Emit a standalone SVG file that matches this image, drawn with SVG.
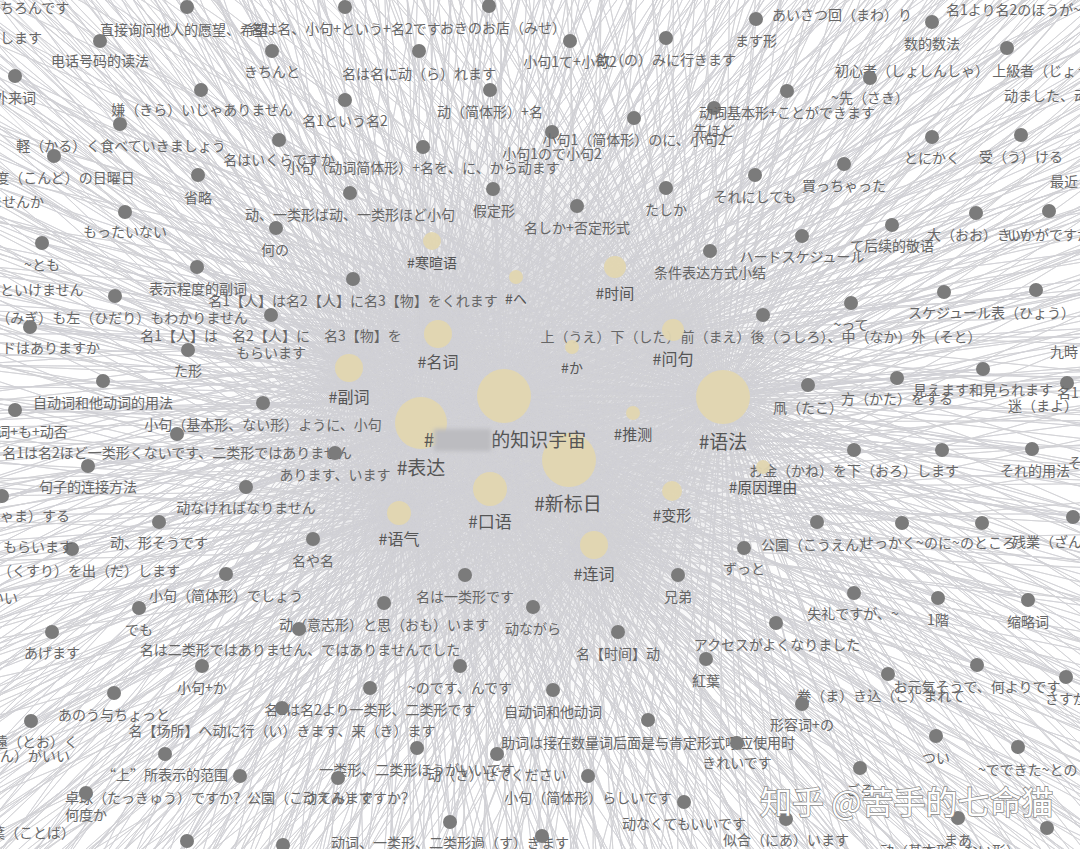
<svg xmlns="http://www.w3.org/2000/svg" xmlns:xlink="http://www.w3.org/1999/xlink" width="1080" height="849" viewBox="0 0 1080 849">
<style>
text{font-family:"Noto Sans CJK SC","Noto Sans CJK JP",sans-serif}
.n circle{fill:#7b7b7b}
.n text{font-size:14px;fill:#666;text-anchor:middle}
.n text.s{text-anchor:start}
.n text.e{text-anchor:end}
.h circle{fill:#e2d6b0;opacity:.95}
.h text{fill:#555;text-anchor:middle}
.c{fill:none;stroke:#d1d1d5;stroke-width:.8;stroke-linejoin:bevel}
</style>
<defs>
<radialGradient id="haze" cx="520" cy="420" r="330" gradientUnits="userSpaceOnUse">
<stop offset="0" stop-color="#d6d6da"/>
<stop offset="0.5" stop-color="#d9d9dd" stop-opacity="0.8"/>
<stop offset="1" stop-color="#ffffff" stop-opacity="0"/>
</radialGradient>
<filter id="blur" x="-20%" y="-40%" width="140%" height="180%"><feGaussianBlur stdDeviation="2"/></filter>
<path id="star" d="M0 0L-1000 -1000 0 0-935 -1000 0 0-862 -1000 0 0-800 -1000 0 0-728 -1000 0 0-661 -1000 0 0-597 -1000 0 0-530 -1000 0 0-468 -1000 0 0-401 -1000 0 0-335 -1000 0 0-270 -1000 0 0-203 -1000 0 0-140 -1000 0 0-71 -1000 0 0-8 -1000 0 0 57 -1000 0 0 122 -1000 0 0 190 -1000 0 0 255 -1000 0 0 318 -1000 0 0 386 -1000 0 0 450 -1000 0 0 517 -1000 0 0 583 -1000 0 0 648 -1000 0 0 716 -1000 0 0 780 -1000 0 0 845 -1000 0 0 912 -1000 0 0 975 -1000 0 0 1000 -960 0 0 1000 -893 0 0 1000 -829 0 0 1000 -760 0 0 1000 -697 0 0 1000 -631 0 0 1000 -566 0 0 1000 -499 0 0 1000 -437 0 0 1000 -370 0 0 1000 -305 0 0 1000 -238 0 0 1000 -175 0 0 1000 -108 0 0 1000 -42 0 0 1000 25 0 0 1000 91 0 0 1000 156 0 0 1000 224 0 0 1000 289 0 0 1000 353 0 0 1000 421 0 0 1000 486 0 0 1000 551 0 0 1000 618 0 0 1000 684 0 0 1000 749 0 0 1000 815 0 0 1000 882 0 0 1000 948 0 0 1000 1000 0 0 938 1000 0 0 871 1000 0 0 805 1000 0 0 740 1000 0 0 673 1000 0 0 609 1000 0 0 543 1000 0 0 478 1000 0 0 412 1000 0 0 346 1000 0 0 281 1000 0 0 214 1000 0 0 150 1000 0 0 83 1000 0 0 18 1000 0 0-47 1000 0 0-113 1000 0 0-180 1000 0 0-244 1000 0 0-311 1000 0 0-377 1000 0 0-442 1000 0 0-508 1000 0 0-574 1000 0 0-640 1000 0 0-706 1000 0 0-771 1000 0 0-837 1000 0 0-903 1000 0 0-968 1000 0 0-1000 965 0 0-1000 900 0 0-1000 834 0 0-1000 768 0 0-1000 703 0 0-1000 637 0 0-1000 572 0 0-1000 506 0 0-1000 441 0 0-1000 375 0 0-1000 309 0 0-1000 244 0 0-1000 178 0 0-1000 113 0 0-1000 47 0 0-1000 -19 0 0-1000 -84 0 0-1000 -150 0 0-1000 -216 0 0-1000 -281 0 0-1000 -347 0 0-1000 -412 0 0-1000 -478 0 0-1000 -544 0 0-1000 -609 0 0-1000 -675 0 0-1000 -740 0 0-1000 -806 0 0-1000 -871 0 0-1000 -937"/>
</defs>
<rect width="1080" height="849" fill="#ffffff"/>
<rect width="1080" height="849" fill="url(#haze)"/>
<g id="connectors" class="c">
<use xlink:href="#star" transform="translate(504 396)"/>
<use xlink:href="#star" transform="translate(723 397) rotate(1.4)"/>
<use xlink:href="#star" transform="translate(421 423) rotate(2.2)"/>
<use xlink:href="#star" transform="translate(569 460) rotate(0.8)"/>
<use xlink:href="#star" transform="translate(490 489) rotate(1.9)"/>
<use xlink:href="#star" transform="translate(438 334) rotate(2.7)"/>
<use xlink:href="#star" transform="translate(673 330) rotate(0.5)"/>
<use xlink:href="#star" transform="translate(349 368) rotate(3.1)"/>
<use xlink:href="#star" transform="translate(594 545) rotate(1.2)"/>
<use xlink:href="#star" transform="translate(399 513) rotate(2.5)"/>
<path d="M504 396L187 7 504 396 345 7 504 396 489 6 504 396 100 41 504 396 272 51 504 396 419 51 504 396 570 41 504 396 666 38 504 396 756 19 504 396 932 22 504 396 1007 48 504 396 15 76 504 396 201 90 504 396 345 100 504 396 490 90 504 396 120 124 504 396 279 140 504 396 423 147 504 396 552 132 504 396 634 118 504 396 714 108 504 396 787 91 504 396 870 78 504 396 932 137 504 396 1021 135 504 396 54 156 504 396 198 175 504 396 350 193 504 396 493 189 504 396 577 206 504 396 666 188 504 396 755 175 504 396 844 164 504 396 125 212 504 396 276 228 504 396 42 243 504 396 197 267 504 396 353 279 504 396 710 251 504 396 802 236 504 396 892 225 504 396 976 213 504 396 1049 211 504 396 115 296 504 396 30 327 504 396 271 315 504 396 188 350 504 396 103 381 504 396 263 403 504 396 15 410 504 396 177 434 504 396 335 453 504 396 88 466 504 396 246 487 504 396 2 496 504 396 159 522 504 396 72 549 504 396 313 539 504 396 226 574 504 396 465 575 504 396 678 575 504 396 744 548 504 396 817 522 504 396 902 523 504 396 982 523 504 396 1073 517 504 396 854 450 504 396 942 450 504 396 1032 449 504 396 763 315 504 396 851 303 504 396 944 292 504 396 1036 290 504 396 897 378 504 396 983 369 504 396 1067 383 504 396 808 385 504 396 854 593 504 396 938 598 504 396 1028 600 504 396 776 623 504 396 706 659 504 396 618 632 504 396 533 607 504 396 384 603 504 396 299 629 504 396 139 608 504 396 52 632 504 396 202 666 504 396 460 666 504 396 370 688 504 396 553 690 504 396 282 708 504 396 114 693 504 396 31 721 504 396 888 674 504 396 977 665 504 396 1066 677 504 396 802 704 504 396 648 720 504 396 737 743 504 396 417 748 504 396 497 754 504 396 165 754 504 396 936 736 504 396 1018 747 504 396 240 776 504 396 338 778 504 396 588 776 504 396 86 793 504 396 860 768 504 396 684 802 504 396 786 819 504 396 958 818 504 396 1047 828 504 396 450 822 504 396 187 841 504 396 283 845 504 396 542 836"/>
<path d="M723 397L187 7 723 397 345 7 723 397 489 6 723 397 100 41 723 397 272 51 723 397 419 51 723 397 570 41 723 397 666 38 723 397 756 19 723 397 932 22 723 397 1007 48 723 397 15 76 723 397 201 90 723 397 345 100 723 397 490 90 723 397 120 124 723 397 279 140 723 397 423 147 723 397 552 132 723 397 634 118 723 397 714 108 723 397 787 91 723 397 870 78 723 397 932 137 723 397 1021 135 723 397 54 156 723 397 198 175 723 397 350 193 723 397 493 189 723 397 577 206 723 397 666 188 723 397 755 175 723 397 844 164 723 397 125 212 723 397 276 228 723 397 42 243 723 397 197 267 723 397 353 279 723 397 710 251 723 397 802 236 723 397 892 225 723 397 976 213 723 397 1049 211 723 397 115 296 723 397 30 327 723 397 271 315 723 397 188 350 723 397 103 381 723 397 263 403 723 397 15 410 723 397 177 434 723 397 335 453 723 397 88 466 723 397 246 487 723 397 2 496 723 397 159 522 723 397 72 549 723 397 313 539 723 397 226 574 723 397 465 575 723 397 678 575 723 397 744 548 723 397 817 522 723 397 902 523 723 397 982 523 723 397 1073 517 723 397 854 450 723 397 942 450 723 397 1032 449 723 397 763 315 723 397 851 303 723 397 944 292 723 397 1036 290 723 397 897 378 723 397 983 369 723 397 1067 383 723 397 808 385 723 397 854 593 723 397 938 598 723 397 1028 600 723 397 776 623 723 397 706 659 723 397 618 632 723 397 533 607 723 397 384 603 723 397 299 629 723 397 139 608 723 397 52 632 723 397 202 666 723 397 460 666 723 397 370 688 723 397 553 690 723 397 282 708 723 397 114 693 723 397 31 721 723 397 888 674 723 397 977 665 723 397 1066 677 723 397 802 704 723 397 648 720 723 397 737 743 723 397 417 748 723 397 497 754 723 397 165 754 723 397 936 736 723 397 1018 747 723 397 240 776 723 397 338 778 723 397 588 776 723 397 86 793 723 397 860 768 723 397 684 802 723 397 786 819 723 397 958 818 723 397 1047 828 723 397 450 822 723 397 187 841 723 397 283 845 723 397 542 836"/>
<path d="M421 423L187 7 421 423 345 7 421 423 489 6 421 423 100 41 421 423 272 51 421 423 419 51 421 423 570 41 421 423 666 38 421 423 756 19 421 423 932 22 421 423 1007 48 421 423 15 76 421 423 201 90 421 423 345 100 421 423 490 90 421 423 120 124 421 423 279 140 421 423 423 147 421 423 552 132 421 423 634 118 421 423 714 108 421 423 787 91 421 423 870 78 421 423 932 137 421 423 1021 135 421 423 54 156 421 423 198 175 421 423 350 193 421 423 493 189 421 423 577 206 421 423 666 188 421 423 755 175 421 423 844 164 421 423 125 212 421 423 276 228 421 423 42 243 421 423 197 267 421 423 353 279 421 423 710 251 421 423 802 236 421 423 892 225 421 423 976 213 421 423 1049 211 421 423 115 296 421 423 30 327 421 423 271 315 421 423 188 350 421 423 103 381 421 423 263 403 421 423 15 410 421 423 177 434 421 423 335 453 421 423 88 466 421 423 246 487 421 423 2 496 421 423 159 522 421 423 72 549 421 423 313 539 421 423 226 574 421 423 465 575 421 423 678 575 421 423 744 548 421 423 817 522 421 423 902 523 421 423 982 523 421 423 1073 517 421 423 854 450 421 423 942 450 421 423 1032 449 421 423 763 315 421 423 851 303 421 423 944 292 421 423 1036 290 421 423 897 378 421 423 983 369 421 423 1067 383 421 423 808 385 421 423 854 593 421 423 938 598 421 423 1028 600 421 423 776 623 421 423 706 659 421 423 618 632 421 423 533 607 421 423 384 603 421 423 299 629 421 423 139 608 421 423 52 632 421 423 202 666 421 423 460 666 421 423 370 688 421 423 553 690 421 423 282 708 421 423 114 693 421 423 31 721 421 423 888 674 421 423 977 665 421 423 1066 677 421 423 802 704 421 423 648 720 421 423 737 743 421 423 417 748 421 423 497 754 421 423 165 754 421 423 936 736 421 423 1018 747 421 423 240 776 421 423 338 778 421 423 588 776 421 423 86 793 421 423 860 768 421 423 684 802 421 423 786 819 421 423 958 818 421 423 1047 828 421 423 450 822 421 423 187 841 421 423 283 845 421 423 542 836"/>
</g>
<g id="nodes">
<g id="n1" class="n"><circle cx="187" cy="7" r="7"/><text x="184" y="35">直接询问他人的愿望、希望</text></g>
<g id="n2" class="n"><circle cx="345" cy="7" r="7"/><text x="345" y="34">名は名、小句+という+名2です</text></g>
<g id="n3" class="n"><circle cx="489" cy="6" r="7"/><text class="s" x="440" y="33">おきのお店（みせ）</text></g>
<g id="n4" class="n"><circle cx="100" cy="41" r="7"/><text x="100" y="66">电话号码的读法</text></g>
<g id="n5" class="n"><circle cx="272" cy="51" r="7"/><text x="272" y="77">きちんと</text></g>
<g id="n6" class="n"><circle cx="419" cy="51" r="7"/><text x="419" y="79">名は名に动（ら）れます</text></g>
<g id="n7" class="n"><circle cx="570" cy="41" r="7"/><text x="570" y="67">小句1て+小句2</text></g>
<g id="n8" class="n"><circle cx="666" cy="38" r="7"/><text x="666" y="65">飲（の）みに行きます</text></g>
<g id="n9" class="n"><circle cx="756" cy="19" r="7"/><text x="756" y="46">ます形</text></g>
<g id="n10" class="n"><circle cx="932" cy="22" r="7"/><text x="932" y="49">数的数法</text></g>
<g id="n11" class="n"><circle cx="1007" cy="48" r="7"/><text class="s" x="835" y="76">初心者（しょしんしゃ） 上級者（じょうきゅうしゃ）</text></g>
<g id="n12" class="n"><circle cx="15" cy="76" r="7"/><text x="15" y="103">外来词</text></g>
<g id="n13" class="n"><circle cx="201" cy="90" r="7"/><text x="202" y="115">嫌（きら）いじゃありません</text></g>
<g id="n14" class="n"><circle cx="345" cy="100" r="7"/><text x="345" y="126">名1という名2</text></g>
<g id="n15" class="n"><circle cx="490" cy="90" r="7"/><text x="490" y="117">动（简体形）+名</text></g>
<g id="n16" class="n"><circle cx="120" cy="124" r="7"/><text x="121" y="151">軽（かる）く食べていきましょう</text></g>
<g id="n17" class="n"><circle cx="279" cy="140" r="7"/><text x="279" y="165">名はいくらですか</text></g>
<g id="n18" class="n"><circle cx="423" cy="147" r="7"/><text x="423" y="173">小句（动词简体形）+名を、に、から动ます</text></g>
<g id="n19" class="n"><circle cx="552" cy="132" r="7"/><text x="552" y="159">小句1ので小句2</text></g>
<g id="n20" class="n"><circle cx="634" cy="118" r="7"/><text x="634" y="145">小句1（简体形）のに、小句2</text></g>
<g id="n21" class="n"><circle cx="714" cy="108" r="7"/><text x="714" y="136">先ほど</text></g>
<g id="n22" class="n"><circle cx="787" cy="91" r="7"/><text x="787" y="118">动词基本形+ことができます</text></g>
<g id="n23" class="n"><circle cx="870" cy="78" r="7"/><text x="870" y="103">~先（さき）</text></g>
<g id="n24" class="n"><circle cx="932" cy="137" r="7"/><text x="932" y="163">とにかく</text></g>
<g id="n25" class="n"><circle cx="1021" cy="135" r="7"/><text x="1021" y="162">受（う）ける</text></g>
<g id="n26" class="n"><circle cx="54" cy="156" r="7"/><text x="58" y="183">今度（こんど）の日曜日</text></g>
<g id="n27" class="n"><circle cx="198" cy="175" r="7"/><text x="198" y="203">省略</text></g>
<g id="n28" class="n"><circle cx="350" cy="193" r="7"/><text x="350" y="220">动、一类形ば动、一类形ほど小句</text></g>
<g id="n29" class="n"><circle cx="493" cy="189" r="7"/><text x="494" y="216">假定形</text></g>
<g id="n30" class="n"><circle cx="577" cy="206" r="7"/><text x="577" y="233">名しか+否定形式</text></g>
<g id="n31" class="n"><circle cx="666" cy="188" r="7"/><text x="666" y="215">たしか</text></g>
<g id="n32" class="n"><circle cx="755" cy="175" r="7"/><text x="755" y="202">それにしても</text></g>
<g id="n33" class="n"><circle cx="844" cy="164" r="7"/><text x="844" y="191">買っちゃった</text></g>
<g id="n34" class="n"><circle cx="125" cy="212" r="7"/><text x="125" y="237">もったいない</text></g>
<g id="n35" class="n"><circle cx="276" cy="228" r="7"/><text x="275" y="255">何の</text></g>
<g id="n36" class="n"><circle cx="42" cy="243" r="7"/><text x="42" y="270">~とも</text></g>
<g id="n37" class="n"><circle cx="197" cy="267" r="7"/><text x="198" y="294">表示程度的副词</text></g>
<g id="n38" class="n"><circle cx="353" cy="279" r="7"/><text x="353" y="306">名1【人】は名2【人】に名3【物】をくれます</text></g>
<g id="n39" class="n"><circle cx="710" cy="251" r="7"/><text x="710" y="278">条件表达方式小结</text></g>
<g id="n40" class="n"><circle cx="802" cy="236" r="7"/><text x="802" y="262">ハードスケジュール</text></g>
<g id="n41" class="n"><circle cx="892" cy="225" r="7"/><text x="892" y="251">て后续的敬语</text></g>
<g id="n42" class="n"><circle cx="976" cy="213" r="7"/><text x="976" y="240">大（おお）きい</text></g>
<g id="n43" class="n"><circle cx="1049" cy="211" r="7"/><text x="1049" y="240">いかがですか</text></g>
<g id="n44" class="n"><circle cx="115" cy="296" r="7"/><text x="115" y="323">右（みぎ）も左（ひだり）もわかりません</text></g>
<g id="n45" class="n"><circle cx="30" cy="327" r="7"/><text class="s" x="2" y="353">ドはありますか</text></g>
<g id="n46" class="n"><circle cx="271" cy="315" r="7"/><text x="271" y="341">名1【人】は　名2【人】に　名3【物】を</text><text x="271" y="358">もらいます</text></g>
<g id="n47" class="n"><circle cx="188" cy="350" r="7"/><text x="188" y="376">た形</text></g>
<g id="n48" class="n"><circle cx="103" cy="381" r="7"/><text x="103" y="408">自动词和他动词的用法</text></g>
<g id="n49" class="n"><circle cx="263" cy="403" r="7"/><text x="263" y="430">小句（基本形、ない形）ように、小句</text></g>
<g id="n50" class="n"><circle cx="15" cy="410" r="7"/><text x="18" y="437">疑问词+も+动否</text></g>
<g id="n51" class="n"><circle cx="177" cy="434" r="7"/><text x="177" y="458">名1は名2ほど一类形くないです、二类形ではありません</text></g>
<g id="n52" class="n"><circle cx="335" cy="453" r="7"/><text x="335" y="480">あります、います</text></g>
<g id="n53" class="n"><circle cx="88" cy="466" r="7"/><text x="88" y="492">句子的连接方法</text></g>
<g id="n54" class="n"><circle cx="246" cy="487" r="7"/><text x="246" y="513">动なければなりません</text></g>
<g id="n55" class="n"><circle cx="2" cy="496" r="7"/><text class="e" x="70" y="521">邪魔（じゃま）する</text></g>
<g id="n56" class="n"><circle cx="159" cy="522" r="7"/><text x="159" y="548">动、形そうです</text></g>
<g id="n57" class="n"><circle cx="72" cy="549" r="7"/><text x="82" y="576">薬（くすり）を出（だ）します</text></g>
<g id="n58" class="n"><circle cx="313" cy="539" r="7"/><text x="313" y="566">名や名</text></g>
<g id="n59" class="n"><circle cx="226" cy="574" r="7"/><text x="226" y="601">小句（简体形）でしょう</text></g>
<g id="n60" class="n"><circle cx="465" cy="575" r="7"/><text x="465" y="602">名は一类形です</text></g>
<g id="n61" class="n"><circle cx="678" cy="575" r="7"/><text x="678" y="602">兄弟</text></g>
<g id="n62" class="n"><circle cx="744" cy="548" r="7"/><text x="744" y="574">ずっと</text></g>
<g id="n63" class="n"><circle cx="817" cy="522" r="7"/><text x="817" y="550">公園（こうえん）</text></g>
<g id="n64" class="n"><circle cx="902" cy="523" r="7"/><text x="906" y="548">せっかく~のに</text></g>
<g id="n65" class="n"><circle cx="982" cy="523" r="7"/><text x="984" y="548">~のところ</text></g>
<g id="n66" class="n"><circle cx="1073" cy="517" r="7"/><text class="s" x="1012" y="547">残業（ざんぎょう）</text></g>
<g id="n67" class="n"><circle cx="854" cy="450" r="7"/><text x="854" y="476">お金（かね）を下（おろ）します</text></g>
<g id="n68" class="n"><circle cx="942" cy="450" r="7"/></g>
<g id="n69" class="n"><circle cx="1032" cy="449" r="7"/><text x="1035" y="476">それ的用法</text></g>
<g id="n70" class="n"><circle cx="763" cy="315" r="7"/><text x="761" y="342">上（うえ）下（した）前（まえ）後（うしろ）、中（なか）外（そと）</text></g>
<g id="n71" class="n"><circle cx="851" cy="303" r="7"/><text x="851" y="330">~って</text></g>
<g id="n72" class="n"><circle cx="944" cy="292" r="7"/></g>
<g id="n73" class="n"><circle cx="1036" cy="290" r="7"/><text class="s" x="908" y="318">スケジュール表（ひょう）</text></g>
<g id="n74" class="n"><circle cx="897" cy="378" r="7"/><text x="897" y="404">方（かた）をする</text></g>
<g id="n75" class="n"><circle cx="983" cy="369" r="7"/><text x="983" y="395">見えます和見られます</text></g>
<g id="n76" class="n"><circle cx="1067" cy="383" r="7"/><text class="s" x="1008" y="411">迷（まよ）</text></g>
<g id="n77" class="n"><circle cx="808" cy="385" r="7"/><text class="s" x="773" y="413">凧（たこ）</text></g>
<g id="n78" class="n"><circle cx="854" cy="593" r="7"/><text x="853" y="619">失礼ですが、~</text></g>
<g id="n79" class="n"><circle cx="938" cy="598" r="7"/><text x="938" y="625">1階</text></g>
<g id="n80" class="n"><circle cx="1028" cy="600" r="7"/><text x="1028" y="627">缩略词</text></g>
<g id="n81" class="n"><circle cx="776" cy="623" r="7"/><text x="777" y="650">アクセスがよくなりました</text></g>
<g id="n82" class="n"><circle cx="706" cy="659" r="7"/><text x="706" y="686">紅葉</text></g>
<g id="n83" class="n"><circle cx="618" cy="632" r="7"/><text x="618" y="659">名【时间】动</text></g>
<g id="n84" class="n"><circle cx="533" cy="607" r="7"/><text x="533" y="634">动ながら</text></g>
<g id="n85" class="n"><circle cx="384" cy="603" r="7"/><text x="384" y="630">动（意志形）と思（おも）います</text></g>
<g id="n86" class="n"><circle cx="299" cy="629" r="7"/><text x="300" y="655">名は二类形ではありません、ではありませんでした</text></g>
<g id="n87" class="n"><circle cx="139" cy="608" r="7"/><text x="139" y="635">でも</text></g>
<g id="n88" class="n"><circle cx="52" cy="632" r="7"/><text x="52" y="658">あげます</text></g>
<g id="n89" class="n"><circle cx="202" cy="666" r="7"/><text x="202" y="693">小句+か</text></g>
<g id="n90" class="n"><circle cx="460" cy="666" r="7"/><text x="460" y="693">~のです、んです</text></g>
<g id="n91" class="n"><circle cx="370" cy="688" r="7"/><text x="370" y="715">名1は名2より一类形、二类形です</text></g>
<g id="n92" class="n"><circle cx="553" cy="690" r="7"/><text x="553" y="717">自动词和他动词</text></g>
<g id="n93" class="n"><circle cx="282" cy="708" r="7"/><text x="282" y="736">名【场所】へ动に行（い）きます、来（き）ます</text></g>
<g id="n94" class="n"><circle cx="114" cy="693" r="7"/><text x="114" y="720">あのう与ちょっと</text></g>
<g id="n95" class="n"><circle cx="31" cy="721" r="7"/><text x="36" y="747">遠（とお）く</text></g>
<g id="n96" class="n"><circle cx="888" cy="674" r="7"/><text x="881" y="701">巻（ま）き込（こ）まれて</text></g>
<g id="n97" class="n"><circle cx="977" cy="665" r="7"/><text x="977" y="692">お元気そうで、何よりです</text></g>
<g id="n98" class="n"><circle cx="1066" cy="677" r="7"/><text x="1066" y="704">さすが</text></g>
<g id="n99" class="n"><circle cx="802" cy="704" r="7"/><text x="802" y="730">形容词+の</text></g>
<g id="n100" class="n"><circle cx="648" cy="720" r="7"/><text x="648" y="748">助词は接在数量词后面是与肯定形式呼应使用时</text></g>
<g id="n101" class="n"><circle cx="737" cy="743" r="7"/><text x="737" y="768">きれいです</text></g>
<g id="n102" class="n"><circle cx="417" cy="748" r="7"/><text x="417" y="775">一类形、二类形ほうがいいです</text></g>
<g id="n103" class="n"><circle cx="497" cy="754" r="7"/><text x="497" y="780">动（さ）せてください</text></g>
<g id="n104" class="n"><circle cx="165" cy="754" r="7"/><text x="165" y="780">“上”所表示的范围</text></g>
<g id="n105" class="n"><circle cx="936" cy="736" r="7"/><text x="936" y="763">つい</text></g>
<g id="n106" class="n"><circle cx="1018" cy="747" r="7"/><text class="s" x="978" y="775">~でできた~との</text></g>
<g id="n107" class="n"><circle cx="240" cy="776" r="7"/><text x="240" y="803">卓球（たっきゅう）ですか？公園（こうえん）ですか？</text></g>
<g id="n108" class="n"><circle cx="338" cy="778" r="7"/><text x="338" y="803">动てみます</text></g>
<g id="n109" class="n"><circle cx="588" cy="776" r="7"/><text x="588" y="803">小句（简体形）らしいです</text></g>
<g id="n110" class="n"><circle cx="86" cy="793" r="7"/><text x="86" y="820">何度か</text></g>
<g id="n111" class="n"><circle cx="860" cy="768" r="7"/><text x="860" y="795">ごろ</text></g>
<g id="n112" class="n"><circle cx="684" cy="802" r="7"/><text x="684" y="829">动なくてもいいです</text></g>
<g id="n113" class="n"><circle cx="786" cy="819" r="7"/><text x="786" y="845">似合（にあ）います</text></g>
<g id="n114" class="n"><circle cx="958" cy="818" r="7"/><text x="958" y="845">まあ</text></g>
<g id="n115" class="n"><circle cx="1047" cy="828" r="7"/><text class="s" x="880" y="856">动（基本形、ない形）</text></g>
<g id="n116" class="n"><circle cx="450" cy="822" r="7"/><text x="450" y="848">动词、一类形、二类形過（す）ぎます</text></g>
<g id="n117" class="n"><circle cx="187" cy="841" r="7"/></g>
<g id="n118" class="n"><circle cx="283" cy="845" r="7"/></g>
<g id="n119" class="n"><circle cx="542" cy="836" r="7"/></g>
<g id="o1" class="n"><text class="s" x="0" y="13">ちろんです</text></g>
<g id="o2" class="n"><text class="s" x="0" y="43">します</text></g>
<g id="o3" class="n"><text class="s" x="772" y="20">あいさつ回（まわ）り</text></g>
<g id="o4" class="n"><text class="s" x="946" y="15">名1より名2のほうが~</text></g>
<g id="o5" class="n"><text class="s" x="1004" y="101">动ました、动</text></g>
<g id="o6" class="n"><text class="e" x="44" y="207">ませんか</text></g>
<g id="o7" class="n"><text class="s" x="1050" y="187">最近</text></g>
<g id="o8" class="n"><text class="s" x="0" y="295">といけません</text></g>
<g id="o9" class="n"><text class="s" x="1050" y="357">九時</text></g>
<g id="o10" class="n"><text class="s" x="1057" y="398">名1</text></g>
<g id="o11" class="n"><text class="s" x="1068" y="468">そ</text></g>
<g id="o12" class="n"><text class="s" x="3" y="552">もらいます</text></g>
<g id="o13" class="n"><text class="e" x="18" y="603">いい</text></g>
<g id="o14" class="n"><text class="s" x="0" y="761">ん）がいい</text></g>
<g id="o15" class="n"><text class="e" x="75" y="838">言葉（ことば）</text></g>
</g>
<g id="tags">
<g id="t1" class="h"><circle cx="432" cy="241" r="9"/><text x="432" y="268" font-size="14">#寒暄语</text></g>
<g id="t2" class="h"><circle cx="516" cy="277" r="7"/><text x="516" y="304" font-size="14">#へ</text></g>
<g id="t3" class="h"><circle cx="615" cy="267" r="11"/><text x="615" y="299" font-size="15">#时间</text></g>
<g id="t4" class="h"><circle cx="438" cy="334" r="14"/><text x="438" y="368" font-size="16">#名词</text></g>
<g id="t5" class="h"><circle cx="673" cy="330" r="11"/><text x="673" y="365" font-size="16">#问句</text></g>
<g id="t6" class="h"><circle cx="572" cy="347" r="7"/><text x="572" y="373" font-size="14">#か</text></g>
<g id="t7" class="h"><circle cx="349" cy="368" r="14"/><text x="349" y="403" font-size="16">#副词</text></g>
<g id="t9" class="h"><circle cx="421" cy="423" r="26"/><text x="421" y="475" font-size="19">#表达</text></g>
<g id="t10" class="h"><circle cx="723" cy="397" r="27"/><text x="723" y="449" font-size="19">#语法</text></g>
<g id="t11" class="h"><circle cx="633" cy="413" r="7"/><text x="633" y="440" font-size="15">#推测</text></g>
<g id="t12" class="h"><circle cx="569" cy="460" r="27"/><text x="568" y="511" font-size="19">#新标日</text></g>
<g id="t13" class="h"><circle cx="763" cy="467" r="7"/><text x="763" y="493" font-size="15">#原因理由</text></g>
<g id="t14" class="h"><circle cx="490" cy="489" r="17"/><text x="490" y="528" font-size="17">#口语</text></g>
<g id="t15" class="h"><circle cx="672" cy="491" r="10"/><text x="672" y="521" font-size="15">#变形</text></g>
<g id="t16" class="h"><circle cx="399" cy="513" r="12"/><text x="399" y="545" font-size="16">#语气</text></g>
<g id="t17" class="h"><circle cx="594" cy="545" r="14"/><text x="594" y="580" font-size="16">#连词</text></g>
<g id="t8" class="h"><circle cx="504" cy="396" r="27"/><text x="505" y="447" font-size="19">#　　　的知识宇宙</text><rect x="434" y="429" width="57" height="22" fill="#bcbcc0" filter="url(#blur)"/></g>
</g>
<text x="760" y="814" font-size="32" fill="#ffffff" stroke="#8c8c8c" stroke-width="1.6" paint-order="stroke" font-family="Noto Sans CJK SC, sans-serif">知乎 @苦手的七命猫</text>
</svg>
